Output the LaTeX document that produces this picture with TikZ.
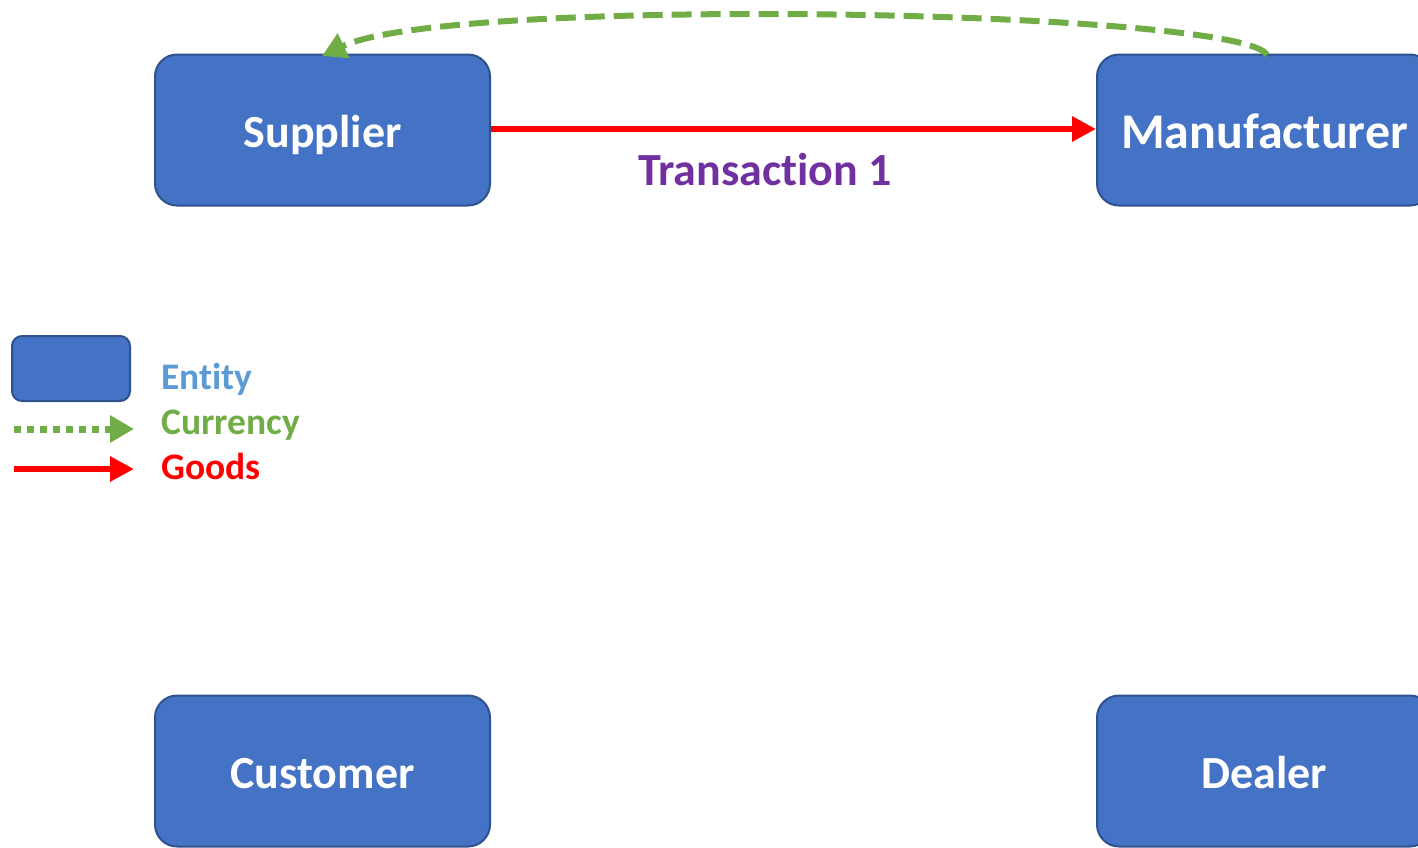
\documentclass[tikz,border=0pt]{standalone}
\usepackage{fontspec}
\setmainfont{Carlito}[Ligatures=NoCommon, Contextuals=NoAlternate]
\usetikzlibrary{arrows.meta}
\definecolor{boxfill}{HTML}{4472C4}
\definecolor{boxline}{HTML}{2F528F}
\definecolor{curgreen}{HTML}{70AD47}
\definecolor{goodred}{HTML}{FF0000}
\definecolor{transpurple}{HTML}{7030A0}
\definecolor{entblue}{HTML}{5B9BD5}
\tikzset{
  entity/.style={draw=boxline, fill=boxfill, line width=2pt, rounded corners=22pt,
    minimum width=335pt, minimum height=151pt, text=white,
    font=\fontsize{46}{52}\selectfont\bfseries, inner sep=0pt,
    text height=34pt, text depth=0pt},
  goodsarrow/.style={draw=goodred, line width=6pt, -{Triangle[length=24pt,width=24pt]}},
  currarrow/.style={draw=curgreen, line width=6pt, dash pattern=on 20pt off 9pt,
    -{Triangle[length=24pt,width=26pt]}},
  legtext/.style={anchor=base west, font=\fontsize{37.5}{42}\selectfont\bfseries, inner sep=0pt}
}
\begin{document}
\begin{tikzpicture}[x=1pt,y=-1pt]
\useasboundingbox (0,0) rectangle (1418,847);
\clip (0,0) rectangle (1418,847);
% entities
\node[entity] (s) at (322.5,130) {Supplier};
\node[entity, font=\fontsize{50}{56}\selectfont\bfseries, text height=36pt] (m) at (1264.5,130) {Manufacturer};
\node[entity] (c) at (322.5,771) {Customer};
\node[entity] (d) at (1264.5,771) {Dealer};
% goods transaction
\draw[goodsarrow] (s.east |- 0,129) -- (m.west |- 0,129);
\node[text=transpurple, font=\fontsize{46}{52}\selectfont\bfseries, inner sep=0pt, anchor=base] (t1) at (765,185) {Transact\kern0pt ion 1};
% currency
\coordinate (mtop) at (1267,55);
\coordinate (stop) at (322,56);
\draw[currarrow] (mtop) .. controls (1245,10) and (450,-5) .. (stop);
% legend
\node[draw=boxline, fill=boxfill, line width=2pt, rounded corners=10pt,
  minimum width=118pt, minimum height=65pt] (lbox) at (71,368.5) {};
\coordinate (lc1) at (14,429);
\coordinate (lc2) at (134,429);
\draw[draw=curgreen, line width=7pt, dash pattern=on 7pt off 6pt,
  -{Triangle[length=24pt,width=26pt]}] (lc1) -- (lc2);
\coordinate (lg1) at (14,469);
\coordinate (lg2) at (134,469);
\draw[goodsarrow] (lg1) -- (lg2);
\node[legtext, text=entblue] (le) at (161,389) {Ent\kern0pt ity};
\node[legtext, text=curgreen] (lcur) at (161,434) {Currency};
\node[legtext, text=goodred] (lgo) at (161,479) {Goods};
\end{tikzpicture}
\end{document}
